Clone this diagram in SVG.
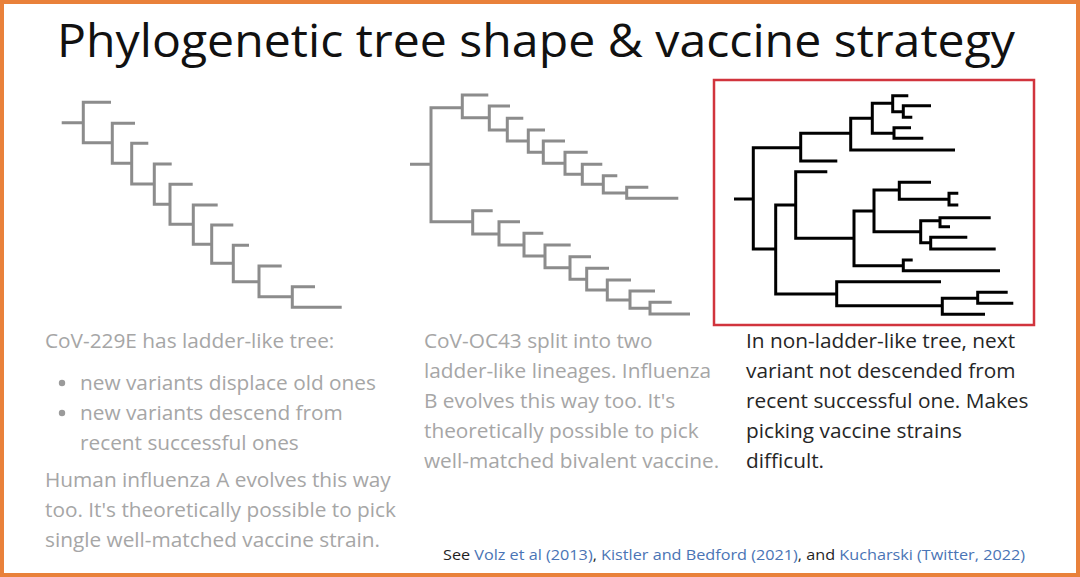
<svg xmlns="http://www.w3.org/2000/svg" width="1080" height="577" viewBox="0 0 1080 577">
<style>
.tg{fill:none;stroke:#8c8c8c;stroke-width:3;stroke-linejoin:miter;stroke-linecap:butt}
.tb{fill:none;stroke:#000;stroke-width:3;stroke-linejoin:miter;stroke-linecap:butt}
.body{font-family:"Open Sans","Noto Sans",sans-serif;font-size:20.8px}
.light{fill:#a6a6a6}
.dark{fill:#262626}
.foot{font-family:"Open Sans","Noto Sans",sans-serif;font-size:15px;fill:#1f1f1f}
.link{fill:#4a74b5}
</style>
<rect x="0" y="0" width="1080" height="577" fill="#fff"/>
<rect x="2" y="2" width="1076" height="573" fill="none" stroke="#e9813a" stroke-width="4"/>
<text id="title" x="536" y="57" text-anchor="middle" font-family="'Open Sans','Noto Sans',sans-serif" font-size="46" font-weight="500" fill="#111" textLength="958" lengthAdjust="spacingAndGlyphs">Phylogenetic tree shape &amp; vaccine strategy</text>

<g id="tree-ladder">
<path class="tg" d="M61.7,122.7H83.3
M111,102.3H83.3V142.7H112.3
M135,123.3H112.3V163.3H131.7
M148.3,143.3H131.7V184H154.3
M171.7,164H154.3V204.3H170
M192.7,184.3H170V224.3H193.3
M217.7,205H193.3V244.3H211.7
M233.3,225H211.7V263.3H233.3
M249,245.3H233.3V281.7H259
M281.7,266H259V296.7H292.3
M315,286.7H292.3V307.3H341.7"/>
</g>

<g id="tree-two-lineages">
<path class="tg" d="M410,164.3H431
M461.7,107.7H431V221.7H472.7
M488.3,95H462.3V117.7H489.3
M510,106H489.3V130H507.3
M523.3,118.3H507.3V141H528.3
M545,130H528.3V152.3H543.3
M565,141H543.3V163.3H565
M587.7,152.3H565V174.3H582.3
M602.3,164.3H582.3V184.3H603.3
M617.3,175.7H603.3V193H626.7
M648.3,187.3H626.7V198.3H678.3
M492.7,210.7H472.7V234H499
M520,221.7H499V245H524
M543.3,233.3H524V256H545
M570.7,245H545V267.7H570
M591,256.7H570V279.3H586.7
M609,268.3H586.7V290H607.3
M631,280H607.3V300H630
M655,291H630V308.3H650
M671.7,302.3H650V314H690"/>
</g>

<g id="tree-non-ladder">
<rect x="714" y="80" width="320" height="245" fill="none" stroke="#d1343d" stroke-width="2.5"/>
<path class="tb" d="M734,199H753.3
M800,147.7H753.3V249H775.7
M850.7,133.3H800.7V161H837.3
M872.3,118.3H850.7V150H955
M892.7,103.3H872.3V133.3H894
M908.3,95.7H892.7V111.7H903.3
M931,105.7H903.3V117.3H912.3
M911,127.7H894V138.3H923.3
M795.7,205H775.7V294H836.7
M827.3,171.7H795.7V238.3H854
M874,211H854V265.7H903.3
M899.3,190H874V231.7H920.7
M931,182.3H899.3V199.3H949
M958.3,193.3H949V205H958.3
M940,220.7H920.7V242.7H930.7
M990.7,217.7H940V226.7H950
M967.3,237.3H930.7V249H995.7
M912.7,260H903.3V270.7H1000
M941,281.7H836.7V305.7H942.3
M977.7,298.3H942.3V314.3H985
M1007.7,292.3H977.7V303.3H1013.3"/>
</g>

<g id="text-ladder" class="body light">
<text x="45" y="348">CoV-229E has ladder-like tree:</text>
<circle cx="62" cy="383" r="3.2" fill="#9a9a9a"/>
<circle cx="62" cy="413" r="3.2" fill="#9a9a9a"/>
<text x="80" y="390">new variants displace old ones</text>
<text x="80" y="420">new variants descend from</text>
<text x="80" y="450">recent successful ones</text>
<text x="45" y="487">Human influenza A evolves this way</text>
<text x="45" y="517">too. It's theoretically possible to pick</text>
<text x="45" y="547">single well-matched vaccine strain.</text>
</g>

<g id="text-two-lineages" class="body light">
<text x="424" y="348">CoV-OC43 split into two</text>
<text x="424" y="378">ladder-like lineages. Influenza</text>
<text x="424" y="408">B evolves this way too. It's</text>
<text x="424" y="438">theoretically possible to pick</text>
<text x="424" y="468">well-matched bivalent vaccine.</text>
</g>

<g id="text-non-ladder" class="body dark">
<text x="746" y="348">In non-ladder-like tree, next</text>
<text x="746" y="378">variant not descended from</text>
<text x="746" y="408">recent successful one. Makes</text>
<text x="746" y="438">picking vaccine strains</text>
<text x="746" y="468">difficult.</text>
</g>

<g id="footer">
<text class="foot" x="443" y="560" textLength="582" lengthAdjust="spacingAndGlyphs">See <tspan class="link">Volz et al (2013)</tspan>, <tspan class="link">Kistler and Bedford (2021)</tspan>, and <tspan class="link">Kucharski (Twitter, 2022)</tspan></text>
</g>
</svg>
